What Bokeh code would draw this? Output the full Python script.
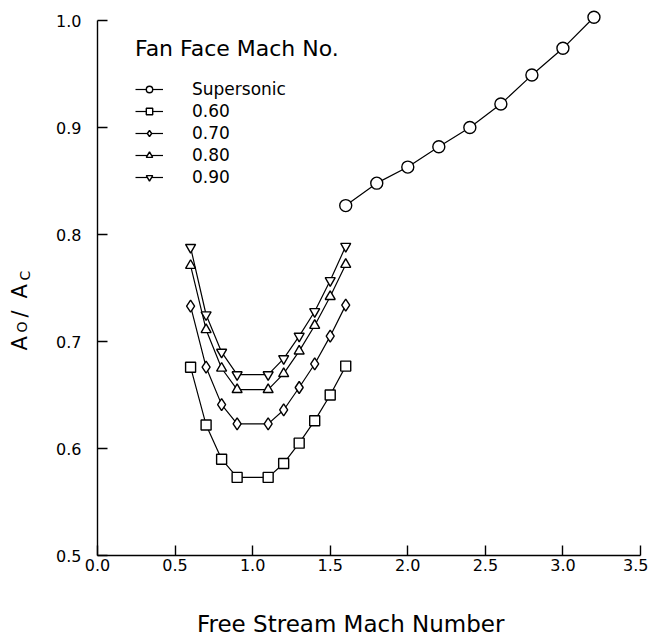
import math
from bokeh.plotting import figure
from bokeh.layouts import row
from bokeh.models import (Range1d, FixedTicker, NumeralTickFormatter, Label,
                          Legend, LegendItem, LinearAxis)
from bokeh.embed import file_html
from bokeh.resources import INLINE

# ---- data ----
mach_super = [1.6, 1.8, 2.0, 2.2, 2.4, 2.6, 2.8, 3.0, 3.2]
ratio_super = [0.827, 0.848, 0.863, 0.882, 0.900, 0.922, 0.949, 0.974, 1.003]

mach_sub = [0.6, 0.7, 0.8, 0.9, 1.1, 1.2, 1.3, 1.4, 1.5, 1.6]
ratio_060 = [0.676, 0.622, 0.590, 0.573, 0.573, 0.586, 0.605, 0.626, 0.650, 0.677]
ratio_070 = [0.733, 0.676, 0.641, 0.623, 0.623, 0.636, 0.657, 0.679, 0.705, 0.734]
ratio_080 = [0.771, 0.711, 0.675, 0.655, 0.655, 0.670, 0.691, 0.715, 0.742, 0.772]
ratio_090 = [0.788, 0.725, 0.690, 0.669, 0.669, 0.684, 0.705, 0.728, 0.757, 0.789]

series_labels = ["Supersonic", "0.60", "0.70", "0.80", "0.90"]
x_ticks = [0.0, 0.5, 1.0, 1.5, 2.0, 2.5, 3.0, 3.5]
y_ticks = [0.5, 0.6, 0.7, 0.8, 0.9, 1.0]

FONT = "DejaVu Sans"
H = 639

# ---------- narrow panel that carries the y-axis title ----------
side = figure(width=50, height=H, min_border=0, x_range=Range1d(0, 50),
              y_range=Range1d(0, H), output_backend="svg",
              x_axis_location=None, y_axis_location=None,
              toolbar_location=None, border_fill_color="white")
side.outline_line_color = None
side.grid.visible = False

ang = math.pi / 2
ylabel_parts = [("A", 19, 205, "21px"), ("O", 21, 223, "14px"),
                ("/", 19, 238, "21px"), ("A", 19, 257, "21px"),
                ("C", 24, 275, "14px")]
for txt, bx, by, fs in ylabel_parts:
    side.add_layout(Label(x=bx, y=by, x_units="screen", y_units="screen",
                          angle=ang, text=txt, text_font=FONT,
                          text_font_size=fs, text_baseline="alphabetic",
                          text_align="left", text_color="black"))

# ---------- main plot ----------
y_top = 0.5 + 546 / 1070.0
p = figure(frame_width=543, frame_height=546,
           min_border_left=47, min_border_right=8,
           min_border_top=9, min_border_bottom=84,
           x_range=Range1d(0, 3.5), y_range=Range1d(0.5, y_top),
           output_backend="svg", toolbar_location=None,
           background_fill_color="white", border_fill_color="white")
p.outline_line_color = None
p.grid.visible = False

for ax in (p.xaxis[0], p.yaxis[0]):
    ax.axis_line_color = "black"
    ax.axis_line_width = 1.4
    ax.major_tick_line_color = "black"
    ax.major_tick_line_width = 1.4
    ax.major_tick_in = 10
    ax.major_tick_out = 0
    ax.minor_tick_line_color = None
    ax.major_label_text_font = FONT
    ax.major_label_text_font_size = "16px"
    ax.major_label_text_color = "black"
    ax.formatter = NumeralTickFormatter(format="0.0")

p.xaxis[0].ticker = FixedTicker(ticks=x_ticks)
p.yaxis[0].ticker = FixedTicker(ticks=y_ticks)
p.yaxis[0].bounds = (0.5, 1.0)
p.xaxis[0].major_label_standoff = 3
p.yaxis[0].major_label_standoff = 16

# bare second bottom axis that only carries the x-axis title
# (trailing no-break spaces nudge the centred title to the left, as in the source)
title_axis = LinearAxis(ticker=FixedTicker(ticks=[]),
                        axis_line_color=None, major_tick_line_color=None,
                        minor_tick_line_color=None,
                        major_label_text_font_size="0px",
                        axis_label="Free Stream Mach Number" + "\u00a0" * 5,
                        axis_label_text_font=FONT,
                        axis_label_text_font_size="23px",
                        axis_label_text_font_style="normal",
                        axis_label_text_color="black",
                        axis_label_standoff=37)
p.add_layout(title_axis, "below")

markers = ["circle", "square", "diamond", "triangle", "inverted_triangle"]
sizes = [12, 10, 12, 10, 10]
data = [(mach_super, ratio_super), (mach_sub, ratio_060), (mach_sub, ratio_070),
        (mach_sub, ratio_080), (mach_sub, ratio_090)]

items = []
for (xs, ys), mk, sz, lab in zip(data, markers, sizes, series_labels):
    ln = p.line(xs, ys, line_color="black", line_width=1.2)
    sc = p.scatter(xs, ys, marker=mk, size=sz, line_color="black",
                   line_width=1.4, fill_color="white")
    items.append(LegendItem(label=lab, renderers=[ln, sc]))

legend = Legend(items=items, location=(38, 368),
                title="Fan Face Mach No.",
                title_text_font=FONT, title_text_font_size="22px",
                title_text_font_style="normal", title_text_color="black",
                title_standoff=18,
                label_text_font=FONT, label_text_font_size="17px",
                label_text_color="black",
                glyph_width=28, glyph_height=16, label_height=16,
                label_standoff=29, spacing=2, padding=0, margin=0,
                border_line_alpha=0, background_fill_alpha=0)
p.add_layout(legend)

layout = row(side, p)
open("out.html", "w").write(file_html(layout, INLINE))
